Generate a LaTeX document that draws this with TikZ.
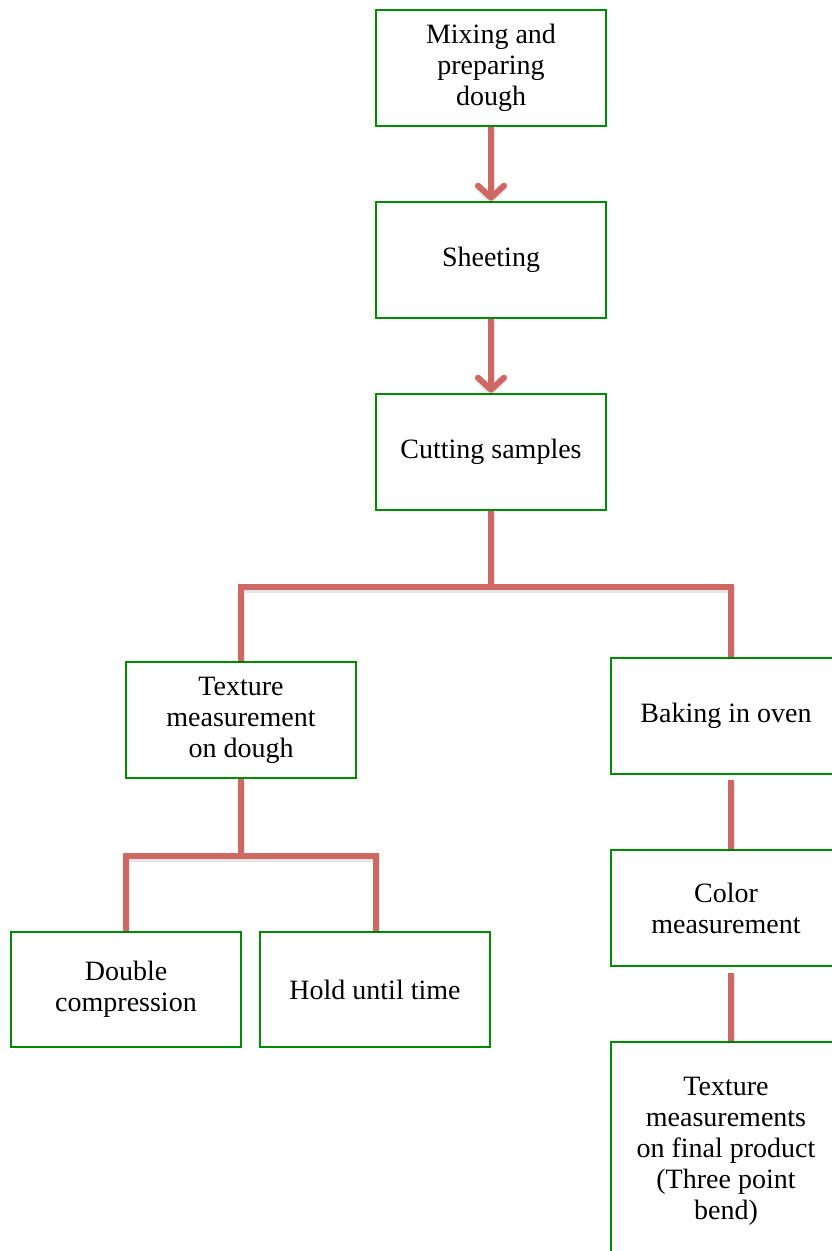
\documentclass[tikz,border=0pt]{standalone}
\usepackage{fontspec}
\setmainfont{Liberation Serif}
\usetikzlibrary{arrows.meta}
\definecolor{boxgreen}{RGB}{0,140,0}
\definecolor{linered}{RGB}{205,104,98}
\begin{document}
\begin{tikzpicture}[x=1pt,y=1pt,
  box/.style={draw=boxgreen, line width=2.7pt, minimum width=230pt, minimum height=116pt,
    align=center, inner sep=0pt, font=\fontsize{28}{31}\selectfont},
  conn/.style={draw=linered, line width=6pt,
    preaction={draw=black, opacity=0.10, line width=7pt, transform canvas={yshift=-2pt}}},
  arr/.style={conn, -{Straight Barb[length=12pt,width=26pt,round]}}]
\useasboundingbox (0,0) rectangle (832,-1251);
\clip (0,0) rectangle (832,-1251);
\node[box] (a) at (491,-68) {Mixing and\\preparing\\dough};
\node[box] (b) at (491,-260) {Sheeting};
\node[box] (c) at (491,-452) {Cutting samples};
\node[box] (d) at (241,-720) {Texture\\measurement\\on dough};
\node[box] (e) at (726,-716) {Baking in oven};
\node[box] (f) at (726,-908) {Color\\measurement};
\node[box, minimum height=218pt] (g) at (726,-1151) {Texture\\measurements\\on final product\\(Three point\\bend)};
\node[box, minimum height=115pt] (h) at (126,-989.5) {Double\\compression};
\node[box, minimum height=115pt] (i) at (375,-989.5) {Hold until time};
\draw[arr] (a) -- (b);
\draw[arr] (b) -- (c);
\draw[conn] (c.south) -- ++(0,-76) coordinate (j1);
\draw[conn] (d.north) |- (j1) -| ([xshift=5pt]e.north);
\draw[conn] (d.south) -- ++(0,-77) coordinate (j2);
\draw[conn] (h.north) |- (j2) -| ([xshift=1pt]i.north);
\draw[conn] ([xshift=5pt,yshift=-5pt]e.south) -- ([xshift=5pt]f.north);
\draw[conn] ([xshift=5pt,yshift=-6pt]f.south) -- ([xshift=5pt]g.north);
\end{tikzpicture}
\end{document}
